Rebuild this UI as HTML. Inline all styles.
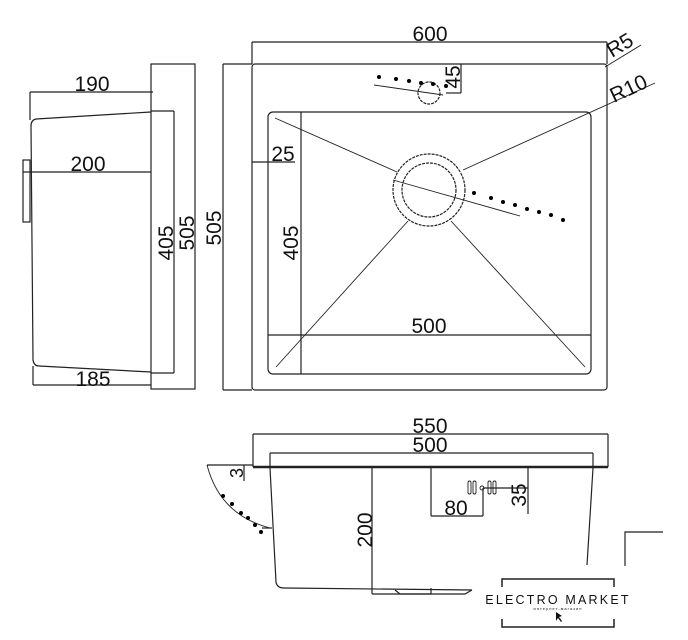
<!DOCTYPE html>
<html><head><meta charset="utf-8"><style>
html,body{margin:0;padding:0;background:#fff;width:688px;height:640px;overflow:hidden}
svg{display:block}
text{font-family:"Liberation Sans",Arial,sans-serif;fill:#111}
</style></head><body>
<svg width="688" height="640" viewBox="0 0 688 640" xmlns="http://www.w3.org/2000/svg">
<g fill="none" stroke="#222" stroke-width="1.2">
<line x1="30" y1="92" x2="153" y2="92"/>
<line x1="30" y1="92" x2="30" y2="120"/>
<rect x="151" y="64" width="44" height="325"/>
<line x1="174" y1="111" x2="174" y2="373"/>
<line x1="151" y1="111" x2="174" y2="111"/>
<line x1="151" y1="373" x2="174" y2="373"/>
<path d="M151 112 L36 119 Q31 120 31 126 L33 360 Q34 366 39 366 L151 372"/>
<rect x="23" y="160" width="7" height="62"/>
<line x1="23" y1="172" x2="151" y2="172"/>
<line x1="33" y1="385" x2="151" y2="385"/>
<line x1="33" y1="366" x2="33" y2="385"/>
<line x1="223" y1="64" x2="223" y2="390"/>
<line x1="223" y1="64" x2="252" y2="64"/>
<line x1="223" y1="390" x2="252" y2="390"/>
<rect x="252" y="64" width="355" height="326" rx="3"/>
<line x1="252" y1="42" x2="607" y2="42"/>
<line x1="252" y1="42" x2="252" y2="64"/>
<line x1="607" y1="42" x2="607" y2="64"/>
<rect x="268" y="112" width="323" height="262" rx="5"/>
<line x1="301" y1="112" x2="301" y2="374"/>
<line x1="268" y1="335" x2="591" y2="335"/>
<line x1="252" y1="162" x2="295" y2="162"/>
<circle cx="429" cy="190" r="36" stroke-dasharray="3 1"/>
<circle cx="429" cy="190" r="27" stroke-dasharray="3 1"/>
<g stroke-width="0.9">
<line x1="275" y1="118" x2="397" y2="172"/>
<line x1="463" y1="170" x2="655" y2="83"/>
<line x1="408" y1="221" x2="276" y2="367"/>
<line x1="451" y1="221" x2="585" y2="367"/>
<line x1="605" y1="67" x2="641" y2="45"/>
<line x1="393" y1="180" x2="520" y2="216"/>
<line x1="374" y1="85" x2="443" y2="95"/>
</g>
<circle cx="429" cy="93" r="11" stroke-dasharray="3 1"/>
<line x1="461" y1="64" x2="461" y2="93"/>
<line x1="446" y1="93" x2="461" y2="93"/>
<line x1="253" y1="434" x2="608" y2="434"/>
<line x1="253" y1="434" x2="253" y2="467"/>
<line x1="608" y1="434" x2="608" y2="467"/>
<line x1="270" y1="453" x2="593" y2="453"/>
<line x1="270" y1="453" x2="270" y2="468"/>
<line x1="593" y1="453" x2="593" y2="468"/>
<line x1="253" y1="467" x2="608" y2="467" stroke-width="2.5"/>
<line x1="207" y1="465" x2="253" y2="465"/>
<line x1="244" y1="465" x2="244" y2="481"/>
<path d="M207 465 Q220 515 270 528" stroke-width="0.9"/>
<line x1="262" y1="528" x2="272" y2="528"/>
<path d="M270 468 L276 582 Q277 588 284 588 L472 590"/>
<line x1="593" y1="468" x2="587" y2="565"/>
<line x1="372" y1="467" x2="372" y2="594"/>
<path d="M372 594 L431 594 L431 588"/>
<path d="M395 590 L400 594 L465 594 L472 590"/>
<line x1="431" y1="467" x2="431" y2="516"/>
<line x1="431" y1="516" x2="483" y2="516"/>
<line x1="483" y1="488" x2="483" y2="516"/>
<line x1="528" y1="467" x2="528" y2="514"/>
<line x1="483" y1="488" x2="528" y2="488"/>
<g stroke-width="0.9">
<rect x="468" y="481" width="3" height="13" rx="1.5"/>
<rect x="473" y="481" width="3" height="13" rx="1.5"/>
<circle cx="482" cy="488" r="2"/>
<rect x="488" y="481" width="3" height="13" rx="1.5"/>
<rect x="493" y="481" width="3" height="13" rx="1.5"/>
</g>
<path d="M625 566 L625 532 L663 532"/>
<path d="M502 587 L502 579 L614 579 L614 587 M502 619 L502 627 L614 627 L614 619" stroke-width="1.5"/>
</g>
<g fill="#000">
<circle cx="379" cy="77" r="2"/><circle cx="396" cy="79" r="2"/><circle cx="409" cy="81" r="2"/><circle cx="421" cy="83" r="2"/><circle cx="433" cy="84" r="2"/><circle cx="446" cy="86" r="2"/>
<circle cx="474" cy="193" r="2"/><circle cx="491" cy="198" r="2"/><circle cx="503" cy="202" r="2"/><circle cx="515" cy="205" r="2"/><circle cx="527" cy="209" r="2"/><circle cx="539" cy="212" r="2"/><circle cx="551" cy="215" r="2"/><circle cx="563" cy="220" r="2"/>
<circle cx="223" cy="496" r="2"/><circle cx="232" cy="504" r="2"/><circle cx="241" cy="513" r="2"/><circle cx="248" cy="518" r="2"/><circle cx="255" cy="525" r="2"/><circle cx="261" cy="532" r="2"/>
</g>
<g font-size="21" text-anchor="middle">
<text x="92" y="91">190</text>
<text x="88" y="171">200</text>
<text x="93" y="386">185</text>
<text transform="translate(173,243) rotate(-90)">405</text>
<text transform="translate(194,233) rotate(-90)">505</text>
<text transform="translate(221,228) rotate(-90)">505</text>
<text x="430" y="41">600</text>
<text x="283" y="161">25</text>
<text transform="translate(298,243) rotate(-90)">405</text>
<text x="429" y="333">500</text>
<text transform="translate(460,77) rotate(-90)">45</text>
<text transform="translate(612,58) rotate(-31)" text-anchor="start">R5</text>
<text transform="translate(614,103) rotate(-25)" text-anchor="start">R10</text>
<text x="430" y="433">550</text>
<text x="430" y="452">500</text>
<text transform="translate(243,473) rotate(-90)" font-size="18">3</text>
<text transform="translate(372,530) rotate(-90)">200</text>
<text x="456" y="515">80</text>
<text transform="translate(526,495) rotate(-90)">35</text>
</g>
<text x="558" y="604" font-size="12.5" text-anchor="middle" letter-spacing="2.2">ELECTRO MARKET</text>
<text x="558" y="610" font-size="4" text-anchor="middle" letter-spacing="1">интернет-магазин</text>
<path d="M556 612 L556 621 L558 618 L561 622 L562 621 L559 617 L562 616 Z" fill="#111"/>
</svg>
</body></html>
